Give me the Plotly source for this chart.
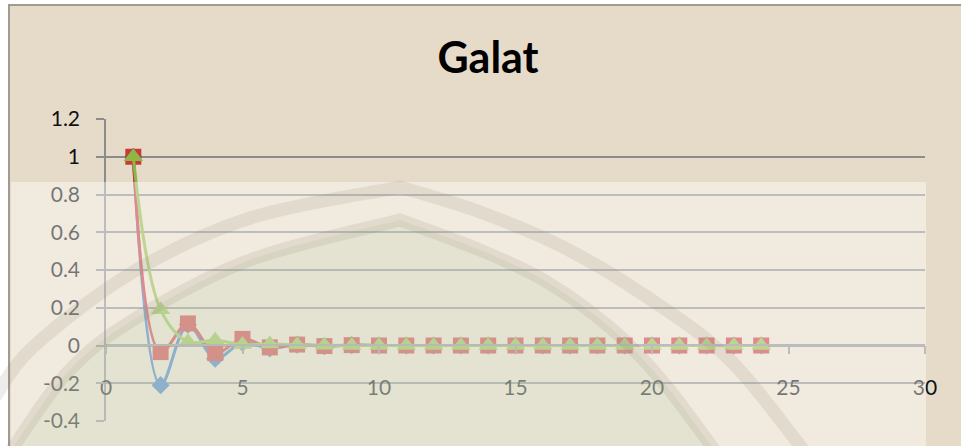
import plotly.graph_objects as go

# ---- data ----
x_vals = list(range(1, 25))
series_names = ["Series1", "Series2", "Series3"]
blue_vals = [1, -0.21, 0.11, -0.07, 0.015, -0.015, 0.005, -0.004, 0.002, 0, 0, 0,
             0, 0, 0, 0, 0, 0, 0, 0, 0, 0, 0, 0]
red_vals = [1, -0.035, 0.117, -0.04, 0.035, -0.01, 0.005, -0.003, 0.002, 0, 0, 0,
            0, 0, 0, 0, 0, 0, 0, 0, 0, 0, 0, 0]
green_vals = [1, 0.19, 0.02, 0.028, 0.005, 0.008, 0.004, 0.001, 0, 0, 0, 0,
              0, 0, 0, 0, 0, 0, 0, 0, 0, 0, 0, 0]
y_tickvals = [1.2, 1, 0.8, 0.6, 0.4, 0.2, 0, -0.2, -0.4]
y_ticktext = ["1.2", "1", "0.8", "0.6", "0.4", "0.2", "0", "-0.2", "-0.4"]
x_tickvals = [0, 5, 10, 15, 20, 25, 30]
x_ticktext = ["0", "5", "10", "15", "20", "25", "30"]
title_text = "Galat"

W, H = 961, 446
L, R, T, B = 106, 36, 119, 25
PW, PH = W - L - R, H - T - B


def px(X):
    return (X - L) / PW


def py(Y):
    return (H - B - Y) / PH


FONT = "Lato, 'Open Sans', sans-serif"

fig = go.Figure()
colors = ["#3F76BC", "#C63A37", "#8EB744"]
symbols = ["diamond", "square", "triangle-up"]
sizes = [14, 16, 17]
for name, vals, c, s, sz in zip(series_names, [blue_vals, red_vals, green_vals], colors, symbols, sizes):
    fig.add_trace(go.Scatter(
        x=x_vals, y=vals, name=name, mode="lines+markers",
        line=dict(color=c, width=3, shape="spline", smoothing=1.0),
        marker=dict(symbol=s, size=sz, color=c, line=dict(width=0)),
        showlegend=False,
    ))


def P(X, Y):
    return f"{px(X):.4f},{py(Y):.4f}"


def seg(pts):
    # Catmull-Rom through points -> cubic bezier segments (no initial M)
    s = ""
    n = len(pts)
    for i in range(n - 1):
        p0 = pts[i - 1] if i > 0 else pts[i]
        p1, p2 = pts[i], pts[i + 1]
        p3 = pts[i + 2] if i + 2 < n else pts[i + 1]
        c1 = (p1[0] + (p2[0] - p0[0]) / 6, p1[1] + (p2[1] - p0[1]) / 6)
        c2 = (p2[0] - (p3[0] - p1[0]) / 6, p2[1] - (p3[1] - p1[1]) / 6)
        s += f" C {P(*c1)} {P(*c2)} {P(*p2)}"
    return s


def arch(left, right, close=False):
    s = "M " + P(*left[0]) + seg(left) + seg(right)
    return s + (" Z" if close else "")


outer_left = [(-5, 397), (33, 347), (133, 272), (250, 218), (400, 187)]
outer_right = [(400, 187), (480, 212), (563, 247), (647, 297), (730, 360), (805, 452)]
inner_left = [(10, 452), (67, 373), (133, 320), (250, 260), (400, 220)]
inner_right = [(400, 220), (480, 250), (547, 282), (613, 330), (663, 382), (716, 452)]

shapes = []
# chart area background with border
shapes.append(dict(type="rect", xref="paper", yref="paper", layer="below",
                   x0=px(9), x1=px(975), y0=py(460), y1=py(5),
                   fillcolor="#E6DBC9", line=dict(color="#A19A92", width=2)))
# semi transparent watermark overlay (lower part)
shapes.append(dict(type="rect", xref="paper", yref="paper", layer="above",
                   x0=px(11), x1=px(926), y0=py(460), y1=py(182),
                   fillcolor="rgba(255,255,255,0.42)", line=dict(width=0)))
# green interior of watermark
shapes.append(dict(type="path", xref="paper", yref="paper", layer="above",
                   path=arch(inner_left, inner_right, close=True),
                   fillcolor="rgba(150,185,125,0.13)", line=dict(width=0)))
# outer and inner bands
for lft, rgt in ((outer_left, outer_right), (inner_left, inner_right)):
    shapes.append(dict(type="path", xref="paper", yref="paper", layer="above",
                       path=arch(lft, rgt),
                       line=dict(color="rgba(140,128,110,0.15)", width=13)))

fig.update_layout(
    width=W, height=H,
    margin=dict(l=L, r=R, t=T, b=B),
    paper_bgcolor="white",
    plot_bgcolor="rgba(0,0,0,0)",
    font=dict(family=FONT, size=21, color="#111111"),
    title=dict(text=f"<b>{title_text}</b>", x=488 / W, xanchor="center",
               y=1 - 58 / H, yanchor="middle", yref="container",
               font=dict(family=FONT, size=43, color="#000000")),
    shapes=shapes,
    xaxis=dict(range=[0, 30], tickvals=x_tickvals, ticktext=x_ticktext,
               anchor="free", position=py(345), side="bottom",
               showline=True, linecolor="#8C8C8C", linewidth=1.5,
               ticks="outside", ticklen=8, tickwidth=1.5, tickcolor="#8C8C8C",
               showgrid=False, zeroline=False, ticklabelstandoff=16,
               tickfont=dict(family=FONT, size=21, color="#111111")),
    yaxis=dict(range=[-0.4, 1.2], tickvals=y_tickvals, ticktext=y_ticktext,
               showline=True, linecolor="#8C8C8C", linewidth=1.5,
               ticks="outside", ticklen=8, tickwidth=1.5, tickcolor="#8C8C8C",
               showgrid=True, gridcolor="#8C8C8C", gridwidth=1.5,
               zeroline=False, ticklabelstandoff=12,
               tickfont=dict(family=FONT, size=21, color="#111111")),
)

fig.write_html("out.html", config={"displayModeBar": False},
               post_script="document.body.style.margin='0';document.body.style.padding='0';")
